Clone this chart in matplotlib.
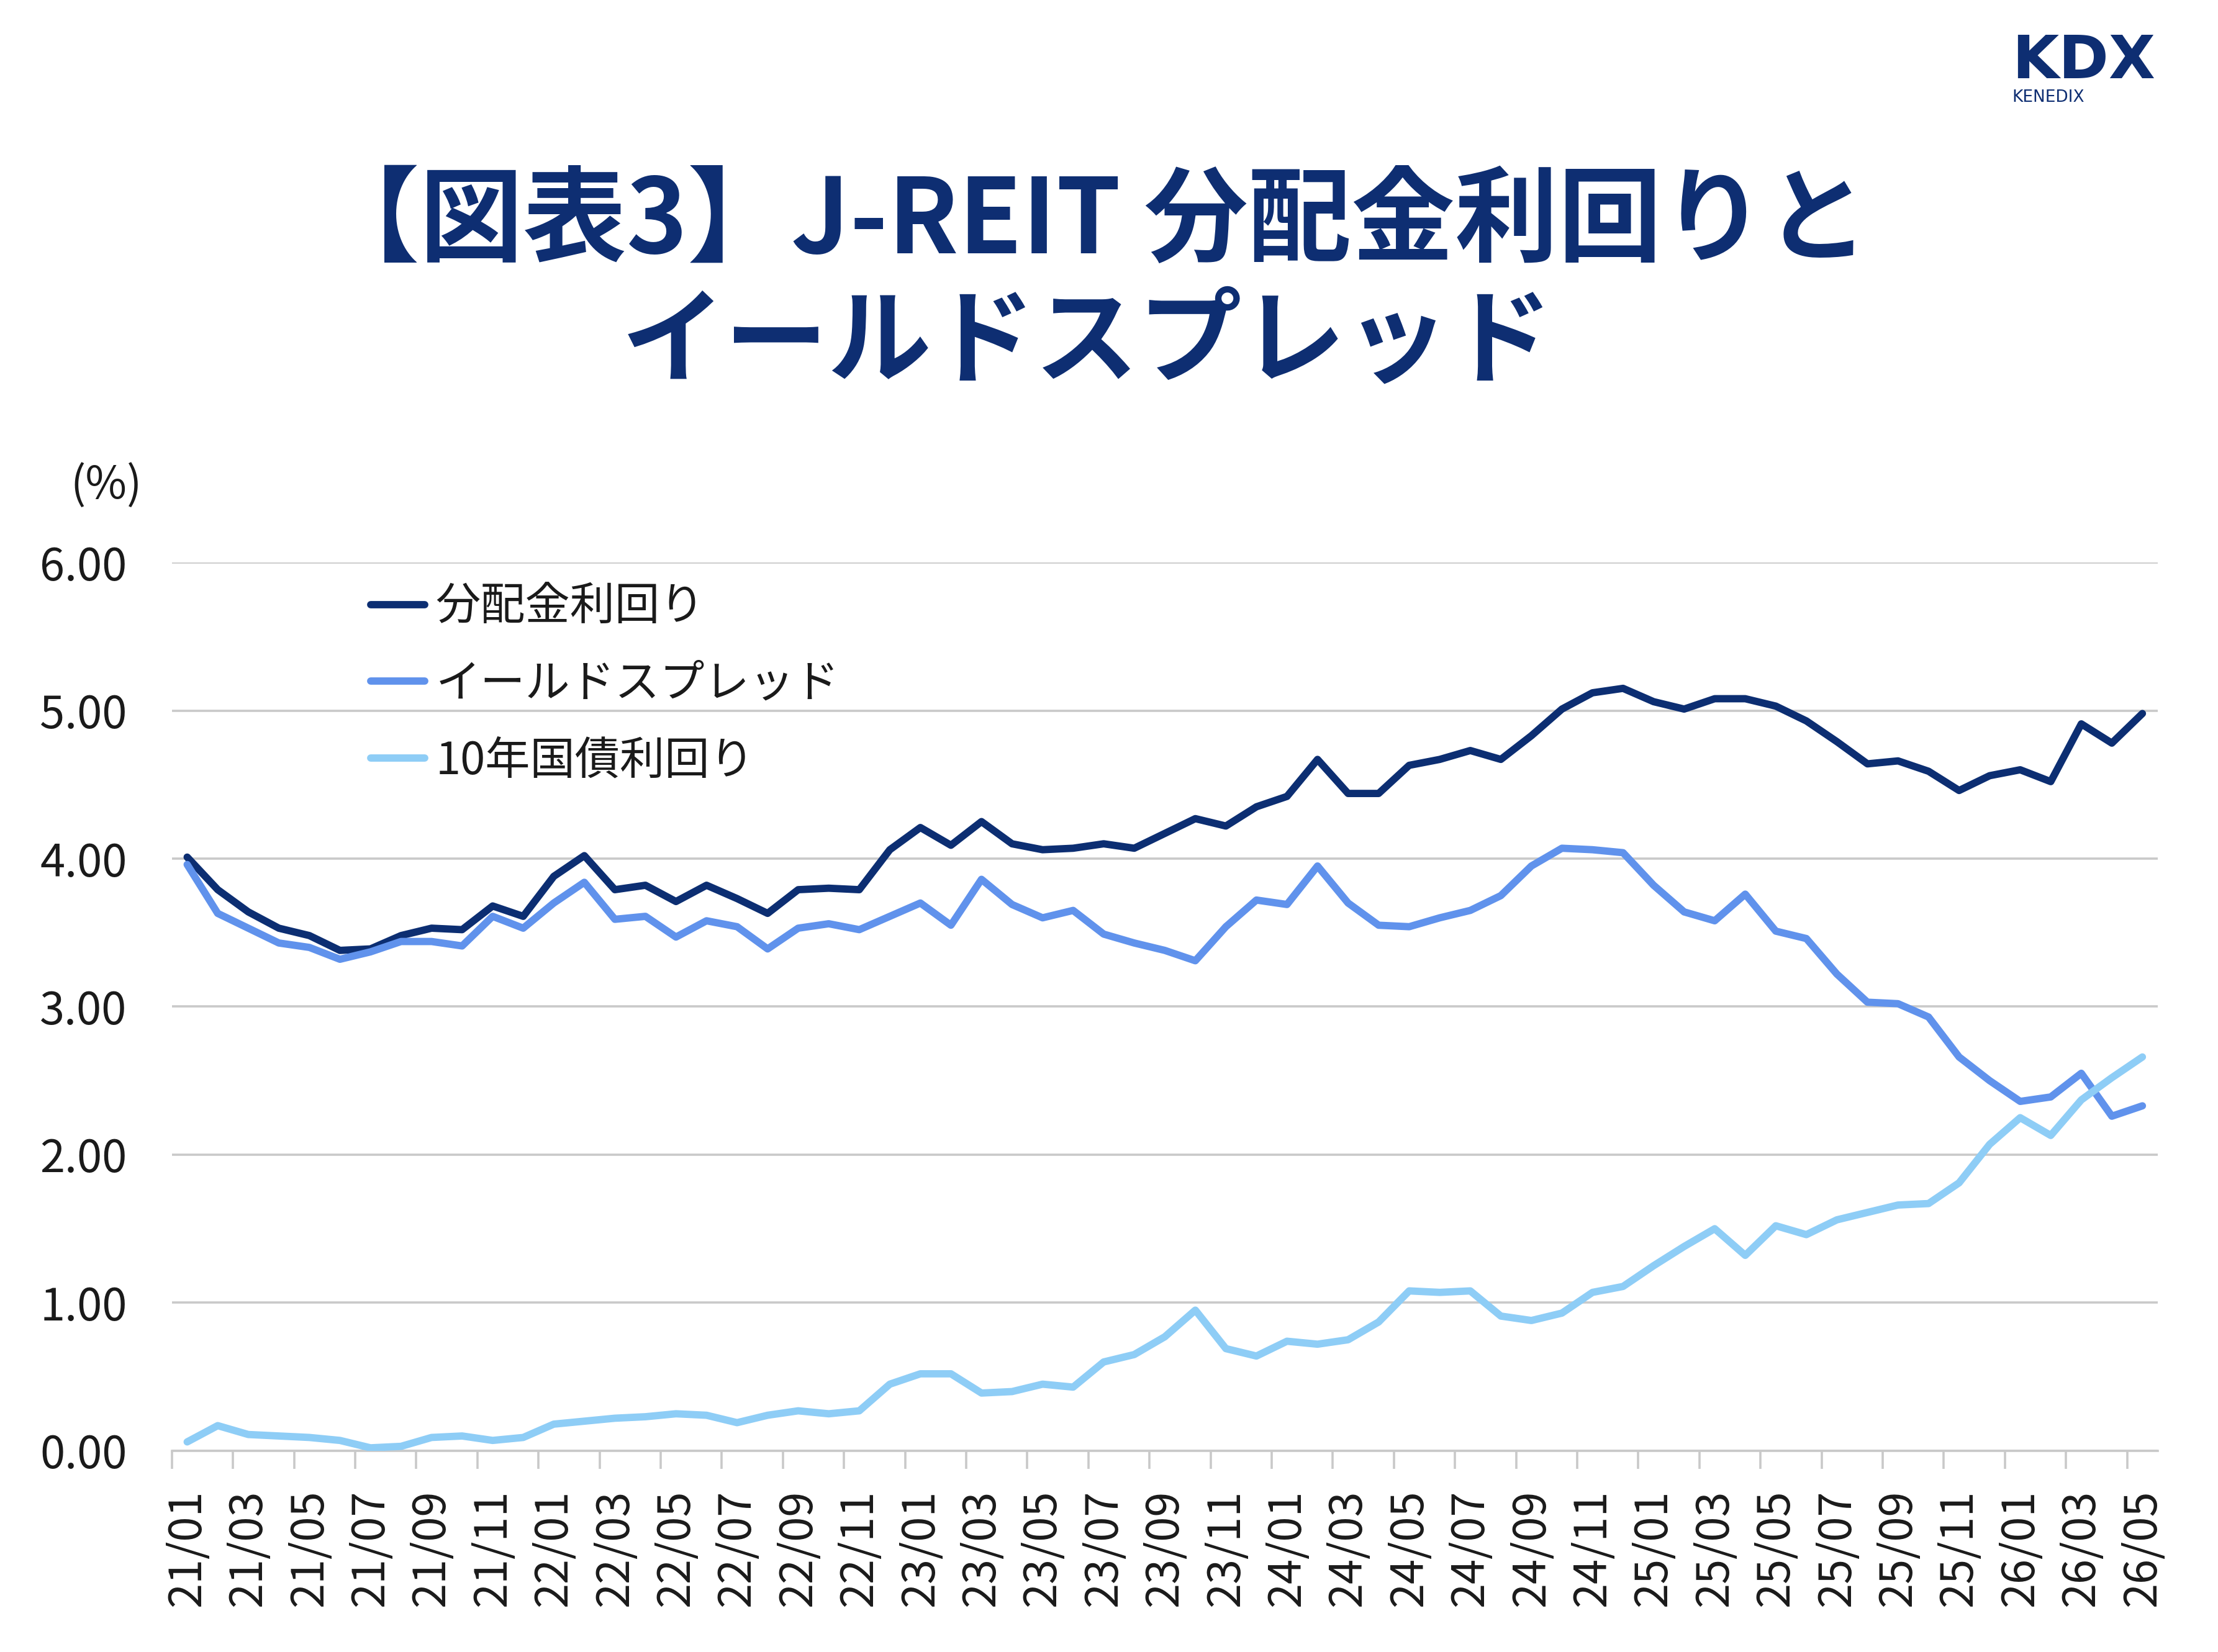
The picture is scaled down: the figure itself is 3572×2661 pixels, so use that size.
import matplotlib
matplotlib.use("Agg")
import matplotlib.pyplot as plt
from matplotlib.ticker import FixedLocator, FuncFormatter

plt.rcParams['font.family'] = ['Noto Sans CJK JP', 'DejaVu Sans']

# monthly labels 21/01 .. 26/05
months = [f"{y:02d}/{m:02d}" for y in range(21, 27) for m in range(1, 13)][:65]

# 分配金利回り (%)
dividend = [4.01, 3.79, 3.64, 3.53, 3.48, 3.38, 3.39, 3.48, 3.53, 3.52,
            3.68, 3.61, 3.88, 4.02, 3.79, 3.82, 3.71, 3.82, 3.73, 3.63,
            3.79, 3.80, 3.79, 4.06, 4.21, 4.09, 4.25, 4.10, 4.06, 4.07,
            4.10, 4.07, 4.17, 4.27, 4.22, 4.35, 4.42, 4.67, 4.44, 4.44,
            4.63, 4.67, 4.73, 4.67, 4.83, 5.01, 5.12, 5.15, 5.06, 5.01,
            5.08, 5.08, 5.03, 4.93, 4.79, 4.64, 4.66, 4.59, 4.46, 4.56,
            4.60, 4.52, 4.91, 4.78, 4.98]

# イールドスプレッド (%)
spread = [3.96, 3.63, 3.53, 3.43, 3.40, 3.32, 3.37, 3.44, 3.44, 3.41,
          3.61, 3.53, 3.70, 3.84, 3.59, 3.61, 3.47, 3.58, 3.54, 3.39,
          3.53, 3.56, 3.52, 3.61, 3.70, 3.55, 3.86, 3.69, 3.60, 3.65,
          3.49, 3.43, 3.38, 3.31, 3.54, 3.72, 3.69, 3.95, 3.70, 3.55,
          3.54, 3.60, 3.65, 3.75, 3.95, 4.07, 4.06, 4.04, 3.82, 3.64,
          3.58, 3.76, 3.51, 3.46, 3.22, 3.03, 3.02, 2.93, 2.66, 2.50,
          2.36, 2.39, 2.55, 2.26, 2.33]

# 10年国債利回り (%)
jgb10 = [0.06, 0.17, 0.11, 0.10, 0.09, 0.07, 0.02, 0.03, 0.09, 0.10,
         0.07, 0.09, 0.18, 0.20, 0.22, 0.23, 0.25, 0.24, 0.19, 0.24,
         0.27, 0.25, 0.27, 0.45, 0.52, 0.52, 0.39, 0.40, 0.45, 0.43,
         0.60, 0.65, 0.77, 0.95, 0.69, 0.64, 0.74, 0.72, 0.75, 0.87,
         1.08, 1.07, 1.08, 0.91, 0.88, 0.93, 1.07, 1.11, 1.25, 1.38,
         1.50, 1.32, 1.52, 1.46, 1.56, 1.61, 1.66, 1.67, 1.81, 2.07,
         2.25, 2.13, 2.37, 2.52, 2.66]

series_names = ["分配金利回り", "イールドスプレッド", "10年国債利回り"]
colors = ["#0c2e72", "#6092ec", "#8ecdf6"]
navy = "#0e2e72"
grid_c = "#c9c9c9"
txt_c = "#1a1a1a"

fig = plt.figure(figsize=(35.72, 26.61), dpi=100)
ax = fig.add_axes([0.0775, 0.1218, 0.8953, 0.5377])

x = list(range(len(months)))
for vals, name, c in zip([dividend, spread, jgb10], series_names, colors):
    ax.plot(x, vals, color=c, lw=8.5, label=name,
            solid_joinstyle='round', solid_capstyle='round', zorder=3)

ax.set_xlim(-0.5, len(months) - 0.5)
ax.set_ylim(0, 6)
ax.set_yticks([0, 1, 2, 3, 4, 5, 6])
ax.yaxis.set_major_formatter(FuncFormatter(lambda v, p: f"{v:.2f}"))
ax.grid(axis='y', color=grid_c, lw=2.6, zorder=0)

ax.set_xticks(x[::2])
ax.set_xticklabels(months[::2], rotation=90)
ax.xaxis.set_minor_locator(FixedLocator([i - 0.5 for i in range(0, len(months), 2)]))

for s in ['top', 'right', 'left']:
    ax.spines[s].set_visible(False)
ax.spines['bottom'].set_color(grid_c)
ax.spines['bottom'].set_linewidth(2.6)

ax.tick_params(axis='y', length=0, pad=52, labelsize=52, labelcolor=txt_c)
ax.tick_params(axis='x', which='major', length=0, pad=45, labelsize=52, labelcolor=txt_c)
ax.tick_params(axis='x', which='minor', length=21, width=2.6, color=grid_c)

leg = ax.legend(loc='upper left', bbox_to_anchor=(0.1671, 0.646),
                bbox_transform=fig.transFigure, frameon=False, fontsize=52,
                handlelength=1.2, handletextpad=0.25, labelspacing=0.70,
                borderpad=0, borderaxespad=0)
for t in leg.get_texts():
    t.set_color(txt_c)

fig.text(0.048, 0.706, "(%)", fontsize=52, color=txt_c, ha='center', va='center')

# title
fig.text(0.4925, 0.865, "【図表3】J-REIT 分配金利回りと", fontsize=120,
         fontweight='bold', color=navy, ha='center', va='center')
fig.text(0.490, 0.792, "イールドスプレッド", fontsize=120,
         fontweight='bold', color=navy, ha='center', va='center')

# logo
fig.text(0.9071, 0.945, "KDX", fontsize=70, fontweight='bold', color=navy,
         family='DejaVu Sans', ha='left', va='bottom')
fig.text(0.9071, 0.936, "KENEDIX", fontsize=19, color=navy,
         family='DejaVu Sans', ha='left', va='bottom')

fig.savefig("out.png", dpi=100, facecolor='white')
